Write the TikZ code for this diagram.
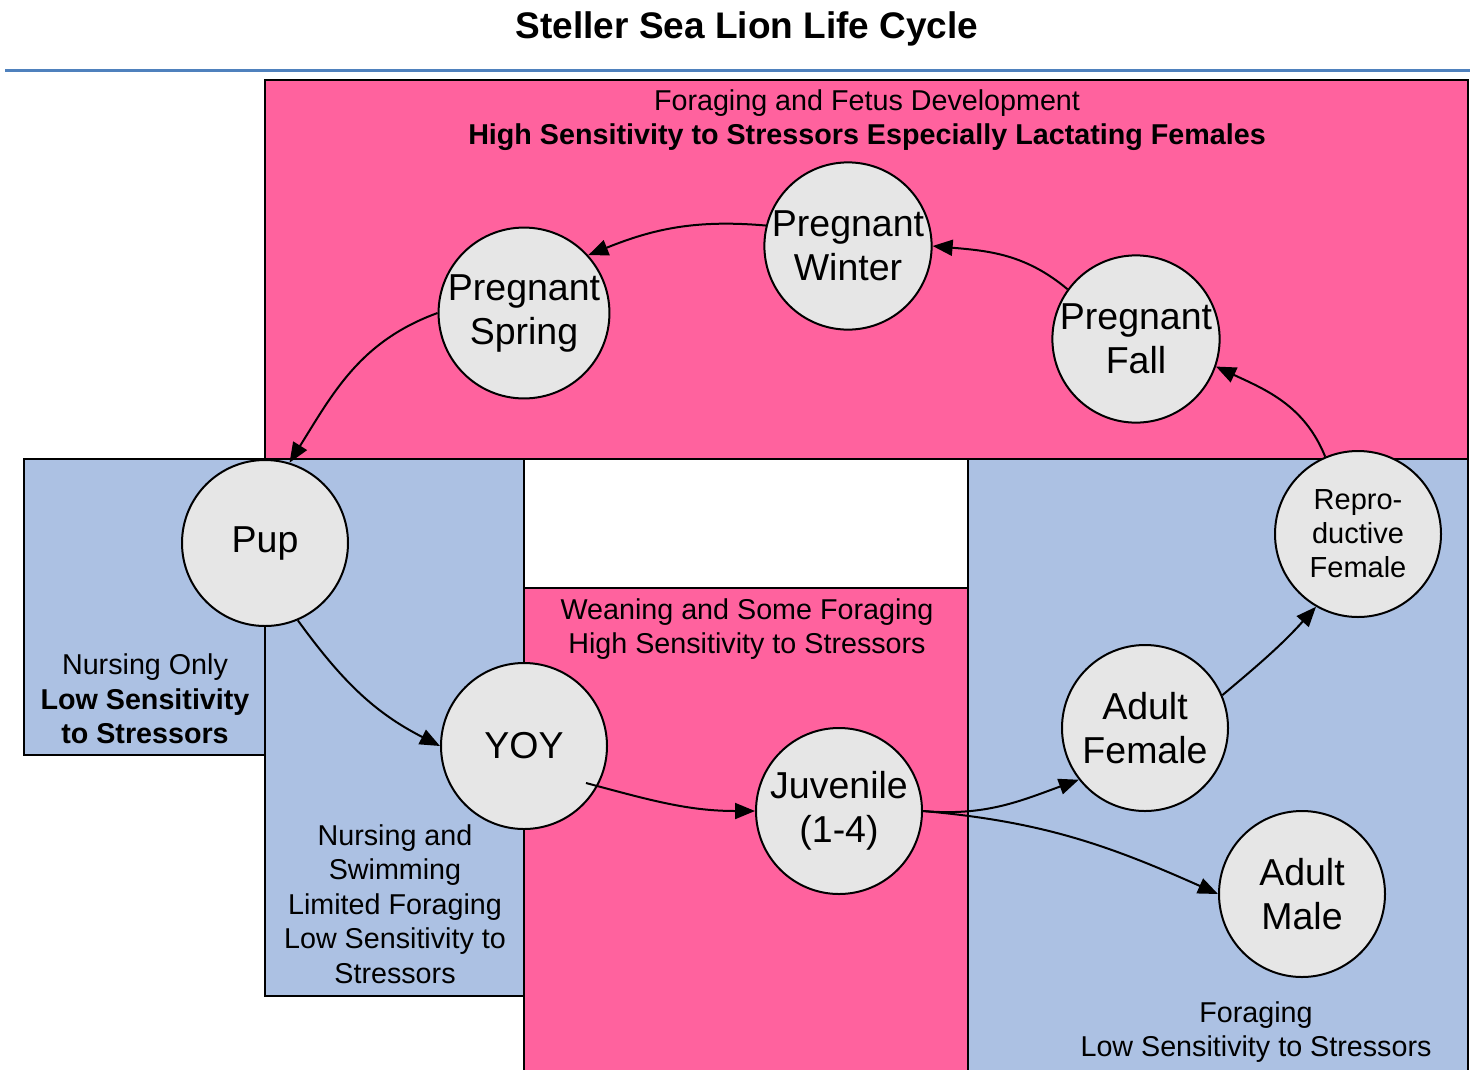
\documentclass[tikz,border=0pt]{standalone}
\usepackage{fontspec}
\setmainfont{Liberation Sans}
\usetikzlibrary{arrows.meta,calc}
\definecolor{pinkbox}{RGB}{255,98,158}
\definecolor{bluebox}{RGB}{172,193,227}
\definecolor{circfill}{RGB}{230,230,230}
\definecolor{rulecol}{RGB}{79,129,189}
\begin{document}
\begin{tikzpicture}[x=1pt,y=1pt,
  zone/.style={draw=black,line width=2pt},
  stage/.style={circle,draw=black,line width=2pt,fill=circfill,minimum size=166pt,inner sep=0pt,align=center,font=\fontsize{37.5}{44}\selectfont},
  lbl/.style={align=center,font=\fontsize{28.7}{34.5}\selectfont,inner sep=0pt},
  link/.style={line width=2pt,-{Triangle[length=20pt,width=16pt]}}]
\useasboundingbox (0,0) rectangle (1470,-1069);
% title
\node[font=\fontsize{37}{44}\selectfont\bfseries] (title) at (747,-29) {Steller Sea Lion Life Cycle};
\draw[rulecol,line width=3pt] (5,-70) -- (1470,-70);
% zones
\draw[zone,fill=pinkbox] (265,-80) rectangle (1468,-459);
\draw[zone,fill=bluebox] (24,-459) rectangle (265,-755);
\draw[zone,fill=bluebox] (265,-459) rectangle (524,-996);
\draw[zone,fill=pinkbox] (524,-588) rectangle (968,-1075);
\draw[zone,fill=bluebox] (968,-459) rectangle (1468,-1075);
% zone labels
\node[lbl] (toptext) at (867,-120) {Foraging and Fetus Development\\\textbf{High Sensitivity to Stressors Especially Lactating Females}};
\node[lbl] (nursonly) at (145,-699) {Nursing Only\\\textbf{Low Sensitivity}\\\textbf{to Stressors}};
\node[lbl] (nursswim) at (395,-904) {Nursing and\\Swimming\\Limited Foraging\\Low Sensitivity to\\Stressors};
\node[lbl] (weaning) at (747,-629) {Weaning and Some Foraging\\High Sensitivity to Stressors};
\node[lbl] (foraging) at (1256,-1032) {Foraging\\Low Sensitivity to Stressors};
% stages
\node[stage] (pup) at (265,-543) {\raisebox{-2pt}{Pup}};
\node[stage] (yoy) at (524,-746) {YOY};
\node[stage] (juv) at (839,-811) {Juvenile\\(1-4)};
\node[stage] (af) at (1145,-728) {Adult\\Female};
\node[stage] (am) at (1302,-894) {Adult\\Male};
\node[stage,font=\fontsize{29}{34}\selectfont] (rf) at (1358,-534) {Repro-\\ductive\\Female};
\node[stage] (pf) at (1136,-339) {Pregnant\\Fall};
\node[stage] (pw) at (848,-246) {Pregnant\\Winter};
\node[stage] (ps) at (524,-313) {Pregnant\\Spring};
% connectors
\coordinate (yoyout) at ($(yoy)+(62,-37)$);
\draw[link] (pup.-67) to[out=-54,in=153] (yoy.180);
\draw[link] (yoyout) to[out=-15,in=180] (juv.180);
\draw[link] (juv.0) to[out=-5,in=200] (af.218);
\draw[link] (juv.0) to[out=-5,in=156] (am.180);
\draw[link] (af.23) to[out=40,in=-132] (rf.-120);
\draw[link] (rf.113) to[out=112,in=-25] (pf.-19);
\draw[link] (pf.144) to[out=140,in=-5] (pw.0);
\draw[link] (pw.166) to[out=175,in=22] (ps.42);
\draw[link] (ps.180) to[out=200,in=58] (pup.73);
\end{tikzpicture}
\end{document}
